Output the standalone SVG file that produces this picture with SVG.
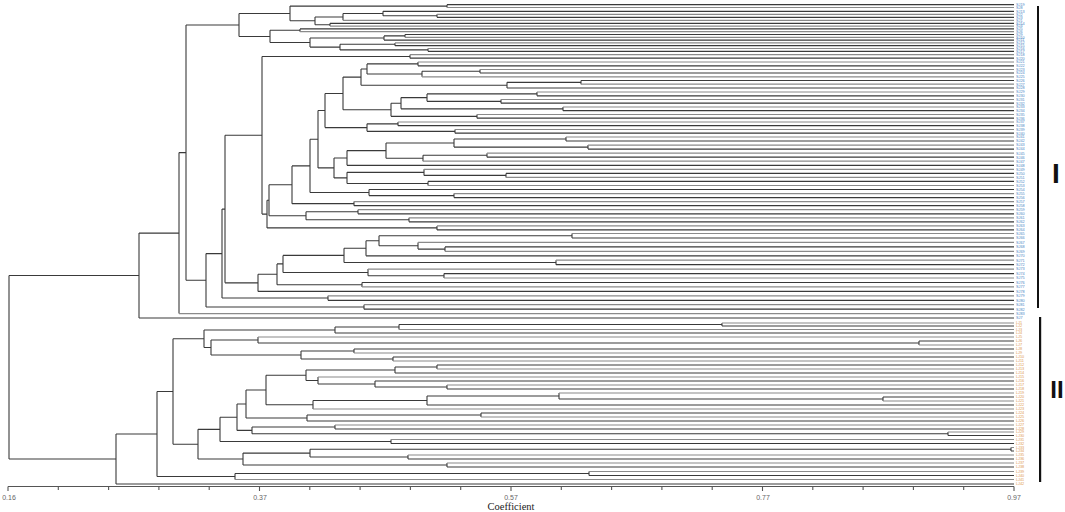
<svg xmlns="http://www.w3.org/2000/svg" width="1065" height="512" viewBox="0 0 1065 512">
<style>
.tr{fill:none;stroke:#3a3a3a;stroke-width:1.1}
.ld{fill:none;stroke:#3a3a3a;stroke-width:1.2}
.ll{fill:none;stroke:#8a8a8a;stroke-width:1.2}
.ax{fill:none;stroke:#555;stroke-width:1.1}
.lb1{font-family:"Liberation Sans",Arial,sans-serif;font-size:3.8px;fill:#4f86c6}
.lb2{font-family:"Liberation Sans",Arial,sans-serif;font-size:3.8px;fill:#e09a50}
.tk{font-family:"Liberation Sans",Arial,sans-serif;font-size:7px;fill:#666;text-anchor:middle}
.ti{font-family:"Liberation Serif","Times New Roman",serif;font-size:10.5px;fill:#222;text-anchor:middle}
.cl{font-family:"Liberation Sans",Arial,sans-serif;font-weight:bold;fill:#111;text-anchor:middle}
</style>
<rect width="1065" height="512" fill="#fff"/>
<g id="connectors">
<path class="tr" d="M9 275.55V459M9 275.55H139M139 233.1V318M139 233.1H179M179 152.6V313.6M179 152.6H186M186 24.94V280.3M186 24.94H239M239 13.45V36.43M239 13.45H290M290 6.1V20.8M290 6.1H447M447 4.7V7.5M290 20.8H315M315 16.93V24.7M315 16.93H343M343 13.55V20.3M343 13.55H383M383 11.3V15.8M383 15.8H437M437 14.3V17.3M315 24.7H330M330 23.3V26.1M239 36.43H270M270 30.3V42.55M270 30.3H300M300 28.9V31.7M270 42.55H310M310 38V47.1M310 38H384M384 35.9V40.1M384 35.9H405M405 34.5V37.3M310 47.1H340M340 44.3V49.9M340 44.3H395M395 42.9V45.7M340 49.9H428M428 48.5V51.3"/>
<path class="tr" d="M186 280.3H206M206 253.6V306.95M206 253.6H222M222 209.1V298.05M222 209.1H225M225 135.3V282.85M225 135.3H262M262 56.45V214.1M262 56.45H410M410 54.7V58.2M262 214.1H267M267 200.3V227.9M267 200.3H269M269 184.8V215.8M269 184.8H292M292 165.9V203.65M292 165.9H310M310 139.2V192.55M310 139.2H318M318 110.5V167.9M318 110.5H325M325 93.45V127.6M325 93.45H343M343 77.1V109.8M343 77.1H361M361 68.95V85.2M361 68.95H367M367 63.9V74M367 63.9H418M418 62V65.8M367 74H422M422 71.25V76.8M422 71.25H480M480 69.5V73M361 85.2H507M507 82.35V88M507 82.35H581M581 80.5V84.2M343 109.8H391M391 103.2V116.35M391 103.2H401M401 97.6V108.85M401 97.6H427M427 93.9V101.35M427 93.9H537M537 92V95.8M427 101.35H501M501 99.5V103.2M401 108.85H563M563 107V110.7M391 116.35H477M477 114.5V118.2M325 127.6H367M367 123.85V131.35M367 123.85H398M398 122V125.7M367 131.35H455M455 129.5V133.2"/>
<path class="tr" d="M318 167.9H334M334 157.95V177.9M334 157.95H347M347 150.6V165.3M347 150.6H386M386 143.05V158.2M386 143.05H454M454 139V147.1M454 139H566M566 137V141M454 147.1H588M588 145.1V149.1M386 158.2H423M423 155.2V161.2M423 155.2H487M487 153.2V157.2M334 177.9H347M347 172.35V183.45M347 172.35H424M424 169.3V175.4M424 175.4H506M506 173.4V177.4M347 183.45H428M428 181.4V185.5M310 192.55H369M369 189.5V195.6M369 195.6H454M454 193.6V197.6M292 203.65H354M354 201.6V205.7M269 215.8H306M306 211.75V219.8M306 211.75H358M358 209.7V213.8M306 219.8H409M409 217.8V221.8M267 227.9H437M437 225.9V229.9"/>
<path class="tr" d="M225 282.85H258M258 274.3V291.4M258 274.3H277M277 263.9V284.7M277 263.9H283M283 255.4V272.45M283 255.4H344M344 248.3V262.45M344 248.3H366M366 240.75V255.8M366 240.75H379M379 235.75V245.75M379 235.75H572M572 233.5V238M379 245.75H418M418 242.4V249.1M418 249.1H445M445 246.9V251.3M344 262.45H556M556 260.2V264.7M283 272.45H368M368 269.1V275.8M368 275.8H444M444 273.6V278M277 284.7H362M362 282.5V286.9M222 298.05H328M328 295.8V300.3M206 306.95H364M364 304.7V309.2"/>
<path class="tr" d="M9 459H116M116 434V484M116 434H157M157 391.5V476.5M157 391.5H173M173 338.75V444.2M173 338.75H204M204 330V347.5M204 330H335M335 327V333M335 327H399M399 324.5V329.5M399 324.5H722M722 323V326M204 347.5H211M211 340V355M211 340H258M258 337V343M258 343H919M919 341V345M211 355H301M301 351V359M301 351H354M354 349V353M301 359H393M393 357V361"/>
<path class="tr" d="M173 444.2H198M198 429.35V459.05M198 429.35H220M220 417.2V441.5M220 417.2H237M237 404V430.4M237 404H246M246 390V418M246 390H266M266 375.25V404.75M266 375.25H306M306 370V380.5M306 370H395M395 367V373M395 367H437M437 365V369M306 380.5H318M318 377V384M318 384H375M375 381V387M375 387H447M447 385V389M266 404.75H313M313 400.5V409M313 400.5H427M427 396V405M427 396H559M559 393V399M559 399H883M883 397V401M246 418H307M307 415V421M307 415H481M481 413V417M237 430.4H252M252 427V433.75M252 427H335M335 425V429M252 433.75H948M948 432V435.5M220 441.5H391M391 439.5V443.5M198 459.05H243M243 453.1V465M243 453.1H310M310 449.25V457M310 449.25H1011M1011 447.5V451M310 457H408M408 455V459M243 465H447M447 463V467M157 476.5H235M235 473.5V479.5M235 473.5H589M589 471.5V475.5"/>
<path class="ld" d="M447 4.7H1014M383 11.3H1014M437 17.3H1014M330 23.3H1014M300 28.9H1014M405 34.5H1014M384 40.1H1014M395 45.7H1014M428 51.3H1014M410 58.2H1014M418 65.8H1014M480 73H1014M581 80.5H1014M507 88H1014M537 95.8H1014M501 103.2H1014M563 110.7H1014M477 118.2H1014M398 125.7H1014M455 133.2H1014M566 141H1014M588 149.1H1014M487 157.2H1014M347 165.3H1014M506 173.4H1014M428 181.4H1014M369 189.5H1014M454 197.6H1014M354 205.7H1014M358 213.8H1014M409 221.8H1014M437 229.9H1014M572 238H1014M445 246.9H1014M366 255.8H1014M556 264.7H1014M444 273.6H1014M362 282.5H1014M258 291.4H1014M328 300.3H1014M364 309.2H1014M139 318H1014M722 326H1014M335 333H1014M919 341H1014M354 349H1014M393 357H1014M437 365H1014M395 373H1014M375 381H1014M447 389H1014M883 397H1014M427 405H1014M481 413H1014M307 421H1014M335 429H1014M948 435.5H1014M391 443.5H1014M1011 451H1014M408 459H1014M447 467H1014M589 475.5H1014M116 484H1014"/>
<path class="ll" d="M447 7.5H1014M437 14.3H1014M343 20.3H1014M330 26.1H1014M300 31.7H1014M405 37.3H1014M395 42.9H1014M428 48.5H1014M410 54.7H1014M418 62H1014M480 69.5H1014M422 76.8H1014M581 84.2H1014M537 92H1014M501 99.5H1014M563 107H1014M477 114.5H1014M398 122H1014M455 129.5H1014M566 137H1014M588 145.1H1014M487 153.2H1014M423 161.2H1014M424 169.3H1014M506 177.4H1014M428 185.5H1014M454 193.6H1014M354 201.6H1014M358 209.7H1014M409 217.8H1014M437 225.9H1014M572 233.5H1014M418 242.4H1014M445 251.3H1014M556 260.2H1014M368 269.1H1014M444 278H1014M362 286.9H1014M328 295.8H1014M364 304.7H1014M179 313.6H1014M722 323H1014M399 329.5H1014M258 337H1014M919 345H1014M354 353H1014M393 361H1014M437 369H1014M318 377H1014M447 385H1014M559 393H1014M883 401H1014M313 409H1014M481 417H1014M335 425H1014M948 432H1014M391 439.5H1014M1011 447.5H1014M408 455H1014M447 463H1014M589 471.5H1014M235 479.5H1014"/>
</g>
<g id="labels-I">
<text class="lb1"><tspan x="1016" y="6">SJ19</tspan><tspan x="1016" y="8.8">SJ8</tspan><tspan x="1016" y="12.6">SJ13</tspan><tspan x="1016" y="15.6">SJ2</tspan><tspan x="1016" y="18.6">SJ3</tspan><tspan x="1016" y="21.6">SJ1</tspan><tspan x="1016" y="24.6">SJ14</tspan><tspan x="1016" y="27.4">SJ4</tspan><tspan x="1016" y="30.2">SJ5</tspan><tspan x="1016" y="33">SJ6</tspan><tspan x="1016" y="35.8">SJ9</tspan><tspan x="1016" y="38.6">SJ10</tspan><tspan x="1016" y="41.4">SJ11</tspan><tspan x="1016" y="44.2">SJ12</tspan><tspan x="1016" y="47">SJ15</tspan><tspan x="1016" y="49.8">SJ16</tspan><tspan x="1016" y="52.6">SJ17</tspan><tspan x="1016" y="56">SJ18</tspan><tspan x="1016" y="59.5">SJ20</tspan><tspan x="1016" y="63.3">SJ21</tspan><tspan x="1016" y="67.1">SJ22</tspan><tspan x="1016" y="70.8">SJ23</tspan><tspan x="1016" y="74.3">SJ24</tspan><tspan x="1016" y="78.1">SJ25</tspan><tspan x="1016" y="81.8">SJ26</tspan><tspan x="1016" y="85.5">SJ27</tspan><tspan x="1016" y="89.3">SJ28</tspan><tspan x="1016" y="93.3">SJ29</tspan><tspan x="1016" y="97.1">SJ30</tspan><tspan x="1016" y="100.8">SJ31</tspan><tspan x="1016" y="104.5">SJ32</tspan><tspan x="1016" y="108.3">SJ33</tspan><tspan x="1016" y="112">SJ34</tspan><tspan x="1016" y="115.8">SJ35</tspan><tspan x="1016" y="119.5">SJ36</tspan><tspan x="1016" y="123.3">SJ37</tspan><tspan x="1016" y="127">SJ38</tspan><tspan x="1016" y="130.8">SJ39</tspan><tspan x="1016" y="134.5">SJ40</tspan><tspan x="1016" y="138.3">SJ41</tspan><tspan x="1016" y="142.3">SJ42</tspan><tspan x="1016" y="146.4">SJ43</tspan><tspan x="1016" y="150.4">SJ44</tspan><tspan x="1016" y="154.5">SJ45</tspan><tspan x="1016" y="158.5">SJ46</tspan><tspan x="1016" y="162.5">SJ47</tspan><tspan x="1016" y="166.6">SJ48</tspan><tspan x="1016" y="170.6">SJ49</tspan><tspan x="1016" y="174.7">SJ50</tspan><tspan x="1016" y="178.7">SJ51</tspan><tspan x="1016" y="182.7">SJ52</tspan><tspan x="1016" y="186.8">SJ53</tspan><tspan x="1016" y="190.8">SJ54</tspan><tspan x="1016" y="194.9">SJ55</tspan><tspan x="1016" y="198.9">SJ56</tspan><tspan x="1016" y="202.9">SJ57</tspan><tspan x="1016" y="207">SJ58</tspan><tspan x="1016" y="211">SJ59</tspan><tspan x="1016" y="215.1">SJ60</tspan><tspan x="1016" y="219.1">SJ61</tspan><tspan x="1016" y="223.1">SJ62</tspan><tspan x="1016" y="227.2">SJ63</tspan><tspan x="1016" y="231.2">SJ64</tspan><tspan x="1016" y="234.8">SJ65</tspan><tspan x="1016" y="239.3">SJ66</tspan><tspan x="1016" y="243.7">SJ67</tspan><tspan x="1016" y="248.2">SJ68</tspan><tspan x="1016" y="252.6">SJ69</tspan><tspan x="1016" y="257.1">SJ70</tspan><tspan x="1016" y="261.5">SJ71</tspan><tspan x="1016" y="266">SJ72</tspan><tspan x="1016" y="270.4">SJ73</tspan><tspan x="1016" y="274.9">SJ74</tspan><tspan x="1016" y="279.3">SJ75</tspan><tspan x="1016" y="283.8">SJ76</tspan><tspan x="1016" y="288.2">SJ77</tspan><tspan x="1016" y="292.7">SJ78</tspan><tspan x="1016" y="297.1">SJ79</tspan><tspan x="1016" y="301.6">SJ80</tspan><tspan x="1016" y="306">SJ81</tspan><tspan x="1016" y="310.5">SJ82</tspan><tspan x="1016" y="314.9">SJ83</tspan><tspan x="1016" y="319.3">SJ7</tspan></text>
</g>
<g id="labels-II">
<text class="lb2"><tspan x="1016" y="324.3">LJ1</tspan><tspan x="1016" y="327.3">LJ2</tspan><tspan x="1016" y="330.8">LJ3</tspan><tspan x="1016" y="334.3">LJ4</tspan><tspan x="1016" y="338.3">LJ5</tspan><tspan x="1016" y="342.3">LJ6</tspan><tspan x="1016" y="346.3">LJ7</tspan><tspan x="1016" y="350.3">LJ8</tspan><tspan x="1016" y="354.3">LJ9</tspan><tspan x="1016" y="358.3">LJ10</tspan><tspan x="1016" y="362.3">LJ11</tspan><tspan x="1016" y="366.3">LJ12</tspan><tspan x="1016" y="370.3">LJ13</tspan><tspan x="1016" y="374.3">LJ14</tspan><tspan x="1016" y="378.3">LJ15</tspan><tspan x="1016" y="382.3">LJ16</tspan><tspan x="1016" y="386.3">LJ17</tspan><tspan x="1016" y="390.3">LJ18</tspan><tspan x="1016" y="394.3">LJ19</tspan><tspan x="1016" y="398.3">LJ20</tspan><tspan x="1016" y="402.3">LJ21</tspan><tspan x="1016" y="406.3">LJ22</tspan><tspan x="1016" y="410.3">LJ23</tspan><tspan x="1016" y="414.3">LJ24</tspan><tspan x="1016" y="418.3">LJ25</tspan><tspan x="1016" y="422.3">LJ26</tspan><tspan x="1016" y="426.3">LJ27</tspan><tspan x="1016" y="430.3">LJ28</tspan><tspan x="1016" y="433.3">LJ29</tspan><tspan x="1016" y="436.8">LJ30</tspan><tspan x="1016" y="440.8">LJ31</tspan><tspan x="1016" y="444.8">LJ32</tspan><tspan x="1016" y="448.8">LJ33</tspan><tspan x="1016" y="452.3">LJ34</tspan><tspan x="1016" y="456.3">LJ35</tspan><tspan x="1016" y="460.3">LJ36</tspan><tspan x="1016" y="464.3">LJ37</tspan><tspan x="1016" y="468.3">LJ38</tspan><tspan x="1016" y="472.8">LJ39</tspan><tspan x="1016" y="476.8">LJ40</tspan><tspan x="1016" y="480.8">LJ41</tspan><tspan x="1016" y="485.3">LJ42</tspan></text>
</g>
<g id="axis">
<path class="ax" d="M8 486.5H1014M8 486.5V491M58.3 486.5V490M108.6 486.5V490M158.9 486.5V490M209.2 486.5V490M259.5 486.5V491M309.8 486.5V490M360.1 486.5V490M410.4 486.5V490M460.7 486.5V490M511 486.5V491M561.3 486.5V490M611.6 486.5V490M661.9 486.5V490M712.2 486.5V490M762.5 486.5V491M812.8 486.5V490M863.1 486.5V490M913.4 486.5V490M963.7 486.5V490M1014 486.5V491"/>
<text class="tk" x="9" y="499.5">0.16</text>
<text class="tk" x="260" y="499.5">0.37</text>
<text class="tk" x="511" y="499.5">0.57</text>
<text class="tk" x="763" y="499.5">0.77</text>
<text class="tk" x="1014" y="499.5">0.97</text>
<text class="ti" x="511" y="510">Coefficient</text>
</g>
<g id="cluster-I">
<rect x="1037" y="6" width="2" height="302" fill="#111"/>
<text class="cl" x="1056" y="183" font-size="28">I</text>
</g>
<g id="cluster-II">
<rect x="1039" y="317" width="2.2" height="165" fill="#111"/>
<text class="cl" x="1057" y="398" font-size="24">II</text>
</g>
</svg>
